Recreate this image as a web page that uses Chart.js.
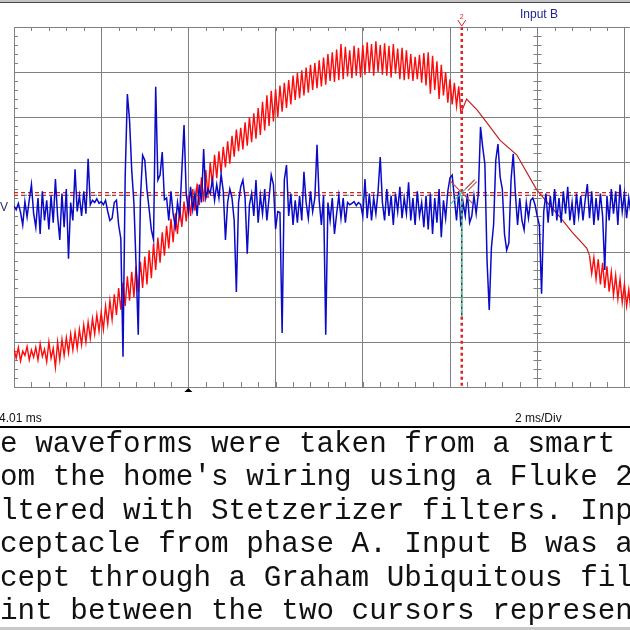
<!DOCTYPE html>
<html>
<head>
<meta charset="utf-8">
<script src="https://cdn.jsdelivr.net/npm/chart.js@4.4.1/dist/chart.umd.min.js"></script>
<style>
  html, body { margin: 0; padding: 0; width: 630px; height: 630px; overflow: hidden; background: #fff; }
  body { position: relative; }
  .scope-wrap { position: absolute; left: 0; top: 0; width: 900px; height: 430px; }
  .label { position: absolute; font-family: "Liberation Sans Narrow", "Arial Narrow", "Liberation Sans", Arial, sans-serif; font-size: 12px; line-height: 12px; white-space: nowrap; }
  .top-bar { position: absolute; left: 0; top: 0; width: 630px; height: 2px; background: #c4c4c4; border-bottom: 1px solid #4a4a4a; }
  .rule { position: absolute; left: 0; top: 426px; width: 630px; height: 2px; background: #000; }
  .status { position: absolute; left: 0; top: 627px; width: 630px; height: 3px; background: #c8c8c8; }
  .note { position: absolute; left: 0; top: 428px; margin: 0; font-family: "Courier New", "Liberation Mono", monospace; font-size: 29.3px; line-height: 33.4px; color: #111; white-space: pre; }
</style>
</head>
<body>
<div class="top-bar"></div>
<div class="scope-wrap"><canvas id="scopeChart" width="900" height="430"></canvas></div>
<div class="label" style="left:520px; top:8px; color:#1e2496;">Input B</div>
<div class="label" style="left:-32px; top:201px; width:40px; text-align:right; color:#283070;">mV</div>
<div class="label" style="left:-1px; top:412px; color:#111;">4.01 ms</div>
<div class="label" style="left:515px; top:412px; color:#111;">2 ms/Div</div>
<div class="rule"></div>
<pre class="note">e waveforms were taken from a smart 
om the home's wiring using a Fluke 2
ltered with Stetzerizer filters. Inp
ceptacle from phase A. Input B was a
cept through a Graham Ubiquitous fil
int between the two cursors represen</pre>
<div class="status"></div>

<script>
// time base: 2 ms/div, one sample every 0.05 ms
const sampleMs = 0.05;
const timeMin = 0;
const timeMax = 20;

// Input A (V), 50 V/div, noisy part up to the cursor
const inputAStart = [
  -158, -168, -156, -171, -160, -165, -155, -170, -159, -167,
  -156, -170, -152, -166, -158, -172, -150, -168, -157, -178,
  -150, -170, -147, -165, -145, -162, -141, -159, -139, -157,
  -136, -153, -131, -150, -128, -146, -124, -141, -120, -138,
  -117, -136, -110, -130, -104, -125, -97, -120, -90, -114,
  -84, -110, -77, -104, -72, -100, -66, -95, -61, -90,
  -55, -86, -48, -79, -41, -70, -34, -62, -28, -54,
  -21, -46, -13, -39, -7, -30, 0, -22, 6, -16,
  13, -10, 20, -4, 26, 2, 33, 6, 41, 10,
  50, 24, 58, 32, 62, 38, 67, 44, 73, 48,
  79, 56, 86, 62, 88, 64, 94, 68, 100, 72,
  104, 76, 110, 80, 117, 85, 124, 90, 129, 95,
  131, 100, 135, 106, 138, 110, 141, 114, 146, 119,
  149, 121, 152, 124, 155, 127, 158, 130, 160, 132,
  163, 134, 166, 136, 170, 140, 172, 139, 175, 141,
  181, 142, 178, 145, 174, 143, 179, 146, 177, 144,
  180, 147, 183, 149, 181, 146, 184, 150, 180, 147,
  182, 146, 179, 144, 181, 148, 176, 142, 177, 141,
  174, 142, 170, 140, 167, 142, 169, 138, 171, 135,
  172, 126, 168, 130, 162, 120, 158, 124, 150, 116,
  142, 114, 138, 112, 134, 104
];

// Input A after the cursor: clean falling slope
const inputASlopeMs = [10.25, 10.38, 10.62, 10.84, 11.15, 11.53, 11.99, 12.25, 12.52, 12.8, 13.14, 13.2];
const inputASlopeV = [104, 120, 108, 94, 74, 58, 19, 4, -11, -28, -46, -54];

// Input A, noisy again at the right edge
const inputATailStartMs = 13.2;
const inputATail = [
  -54, -74, -56, -80, -58, -86, -62, -90, -66, -94,
  -72, -98, -76, -102, -80, -106, -86, -110, -92, -116, -98
];

// Input B (mV), 100 mV/div
const inputB = [
  2, -6, 8, -12, -40, 12, -22, 16, 50, -14,
  -45, 20, -60, 35, -30, 15, -50, 25, -35, 62,
  -20, -73, 30, -45, 40, -115, 10, -30, 84, -10,
  25, -20, 35, -15, 107, 5, 15, 10, 18, 8,
  12, 5, 15, -10, -30, -25, 10, 15, -40, -70,
  -333, 67, 251, 193, 82, 10, -130, -284, 20, 115,
  104, 38, -5, -51, -73, 267, 60, 71, 122, 16,
  20, -30, 35, -15, -44, 10, -20, 82, 182, 30,
  -10, 45, -5, 30, -20, 50, 10, 129, 20, 40,
  30, 60, 15, 50, 20, 73, 35, -73, 10, 40,
  20, -30, -189, 10, 45, 60, 20, -104, 5, 30,
  -20, 60, -35, 25, -15, 40, -30, 20, 71, 50,
  -49, -10, -12, -280, 60, 93, -20, 30, -40, 15,
  -35, 25, -30, 78, 10, -25, 35, -10, 20, 138,
  15, -40, 25, -284, 10, -30, 20, -60, -15, 25,
  -25, 20, -35, 10, 5, 8, 12, 3, 10, 6,
  -20, 62, -25, 30, -30, 20, -15, 35, 111, 10,
  -30, 40, -20, 25, -40, 30, -10, 45, -25, 20,
  -15, 55, -30, 20, -40, 35, -20, 10, -45, 25,
  -50, 30, -60, 20, -35, 40, -67, 15, -25, 35,
  65, 71, 20, -30, 35, -44, 10, -20, 30, -35,
  -20, 25, -15, 30, 178, 133, 95, -120, -229, -90,
  -40, 104, 140, 67, 40, -60, -96, -80, 60, 118,
  30, -40, 20, -30, -51, 10, -25, 15, 20, 5,
  -20, -40, -193, -10, 30, -35, 25, -20, 40, -30,
  20, -35, 35, -15, 45, -30, 10, -40, 30, -20,
  25, -30, 15, 51, -25, 35, -40, 20, -30, 30,
  -20, -140, 25, -30, 40, -15, 35, -40, 50, -10,
  30, -25, 20, -15
];

// cursors and trigger
const cursorMs = 10.27;
const cursorLevelA = 16;
const cursorLevelB = 13;
const cursorTealEndV = -122;
const triggerMs = 4;

const toPoints = (values, startMs) => values.map((v, i) => ({ x: startMs + i * sampleMs, y: v }));
const slopePoints = inputASlopeMs.map((t, i) => ({ x: t, y: inputASlopeV[i] }));

const lineBase = { pointRadius: 0, tension: 0, fill: false };

// minor ticks, cursor marks, trigger mark
const scopeMarks = {
  id: 'scopeMarks',
  beforeDatasetsDraw(chart) {
    const { ctx, chartArea, scales } = chart;
    const xs = scales.x;
    const ys = scales.y;
    ctx.save();
    ctx.strokeStyle = '#808080';
    ctx.lineWidth = 1;
    ctx.beginPath();
    for (let t = timeMin; t <= timeMax; t += 0.4) {
      const px = Math.round(xs.getPixelForValue(t)) + 0.5;
      ctx.moveTo(px, chartArea.top);
      ctx.lineTo(px, chartArea.top + 4);
      ctx.moveTo(px, chartArea.bottom);
      ctx.lineTo(px, chartArea.bottom - 5);
    }
    const centreX = Math.round(xs.getPixelForValue(12)) + 0.5;
    for (let v = -200; v <= 200; v += 10) {
      const py = Math.round(ys.getPixelForValue(v)) + 0.5;
      ctx.moveTo(chartArea.left, py);
      ctx.lineTo(chartArea.left + 4, py);
      ctx.moveTo(centreX - 4, py);
      ctx.lineTo(centreX + 4, py);
    }
    ctx.stroke();
    ctx.restore();
  },
  afterDraw(chart) {
    const { ctx, chartArea, scales } = chart;
    const cx = scales.x.getPixelForValue(cursorMs);
    const cy = scales.y.getPixelForValue(cursorLevelA);
    ctx.save();
    // cursor cross
    ctx.lineWidth = 1.2;
    ctx.strokeStyle = '#b84a4a';
    ctx.beginPath();
    ctx.moveTo(cx - 12, cy - 12);
    ctx.lineTo(cx + 11, cy + 11);
    ctx.stroke();
    ctx.strokeStyle = '#3cb8a8';
    ctx.beginPath();
    ctx.moveTo(cx - 12, cy + 12);
    ctx.lineTo(cx + 12, cy - 12);
    ctx.stroke();
    ctx.strokeStyle = '#d05050';
    ctx.beginPath();
    ctx.moveTo(cx + 4, cy - 4);
    ctx.lineTo(cx + 13, cy - 13);
    ctx.moveTo(cx + 6, cy - 2);
    ctx.lineTo(cx + 15, cy - 11);
    ctx.stroke();
    // cursor head above the grid
    ctx.strokeStyle = '#d02828';
    ctx.lineWidth = 1;
    ctx.beginPath();
    ctx.moveTo(cx - 4, chartArea.top - 7);
    ctx.lineTo(cx, chartArea.top - 1);
    ctx.lineTo(cx + 4, chartArea.top - 7);
    ctx.stroke();
    ctx.fillStyle = '#d02828';
    ctx.font = '7px "Liberation Sans", Arial, sans-serif';
    ctx.textAlign = 'center';
    ctx.textBaseline = 'bottom';
    ctx.fillText('2', cx, chartArea.top - 6);
    // trigger mark
    const tx = scales.x.getPixelForValue(triggerMs);
    ctx.fillStyle = '#000';
    ctx.beginPath();
    ctx.moveTo(tx, chartArea.bottom + 1);
    ctx.lineTo(tx - 4, chartArea.bottom + 5);
    ctx.lineTo(tx + 4, chartArea.bottom + 5);
    ctx.closePath();
    ctx.fill();
    ctx.restore();
  }
};

const ctx = document.getElementById('scopeChart');
new Chart(ctx, {
  type: 'line',
  data: {
    datasets: [
      {
        ...lineBase,
        label: 'Cursor',
        data: [
          { x: cursorMs, y: 200 }, { x: cursorMs, y: cursorLevelB },
          { x: cursorMs, y: null },
          { x: cursorMs, y: cursorTealEndV }, { x: cursorMs, y: -200 }
        ],
        borderColor: '#e02424',
        borderWidth: 2.5,
        borderDash: [3, 3],
        spanGaps: false,
        yAxisID: 'y',
      },
      {
        ...lineBase,
        label: 'Cursor B',
        data: [{ x: cursorMs, y: cursorLevelB }, { x: cursorMs, y: cursorTealEndV }],
        borderColor: '#40c4a4',
        borderWidth: 2,
        borderDash: [3, 3],
        yAxisID: 'y',
      },
      {
        ...lineBase,
        label: 'Cursor B dark',
        data: [{ x: cursorMs, y: cursorLevelB }, { x: cursorMs, y: cursorTealEndV }],
        borderColor: '#3a3f30',
        borderWidth: 1.5,
        borderDash: [3, 3],
        borderDashOffset: 3,
        yAxisID: 'y',
      },
      {
        ...lineBase,
        label: 'Input B',
        data: toPoints(inputB, 0),
        borderColor: '#0a0ac8',
        borderWidth: 1.5,
        yAxisID: 'yB',
      },
      {
        ...lineBase,
        label: 'Level A',
        data: [{ x: timeMin, y: cursorLevelA }, { x: timeMax, y: cursorLevelA }],
        borderColor: '#d82020',
        borderWidth: 1.2,
        borderDash: [4, 3],
        yAxisID: 'y',
      },
      {
        ...lineBase,
        label: 'Level B',
        data: [{ x: timeMin, y: cursorLevelB }, { x: timeMax, y: cursorLevelB }],
        borderColor: '#a83a3a',
        borderWidth: 1.2,
        borderDash: [4, 3],
        yAxisID: 'y',
      },
      {
        ...lineBase,
        label: 'Level B teal',
        data: [{ x: timeMin, y: cursorLevelB }, { x: timeMax, y: cursorLevelB }],
        borderColor: '#38c8c8',
        borderWidth: 1.2,
        borderDash: [3, 11],
        borderDashOffset: 4,
        yAxisID: 'y',
      },
      {
        ...lineBase,
        label: 'Input A slope',
        data: slopePoints,
        borderColor: '#c41e1e',
        borderWidth: 1.2,
        yAxisID: 'y',
      },
      {
        ...lineBase,
        label: 'Input A',
        data: toPoints(inputAStart, 0),
        borderColor: '#ff0a0a',
        borderWidth: 1.4,
        yAxisID: 'y',
      },
      {
        ...lineBase,
        label: 'Input A tail',
        data: toPoints(inputATail, inputATailStartMs),
        borderColor: '#ff0a0a',
        borderWidth: 1.4,
        yAxisID: 'y',
      },
    ],
  },
  options: {
    responsive: false,
    animation: false,
    devicePixelRatio: 1,
    events: [],
    layout: { padding: { left: 14, top: 27, right: 14, bottom: 43 } },
    plugins: {
      legend: { display: false },
      tooltip: { enabled: false },
    },
    scales: {
      x: {
        type: 'linear',
        min: timeMin,
        max: timeMax,
        ticks: { display: false, stepSize: 2 },
        grid: { color: '#808080', lineWidth: 1, drawTicks: false },
        border: { color: '#808080', width: 1 },
      },
      y: {
        min: -200,
        max: 200,
        ticks: { display: false, stepSize: 50 },
        grid: { color: '#808080', lineWidth: 1, drawTicks: false },
        border: { color: '#808080', width: 1 },
      },
      yB: {
        display: false,
        min: -400,
        max: 400,
      },
    },
  },
  plugins: [scopeMarks],
});
</script>
</body>
</html>
